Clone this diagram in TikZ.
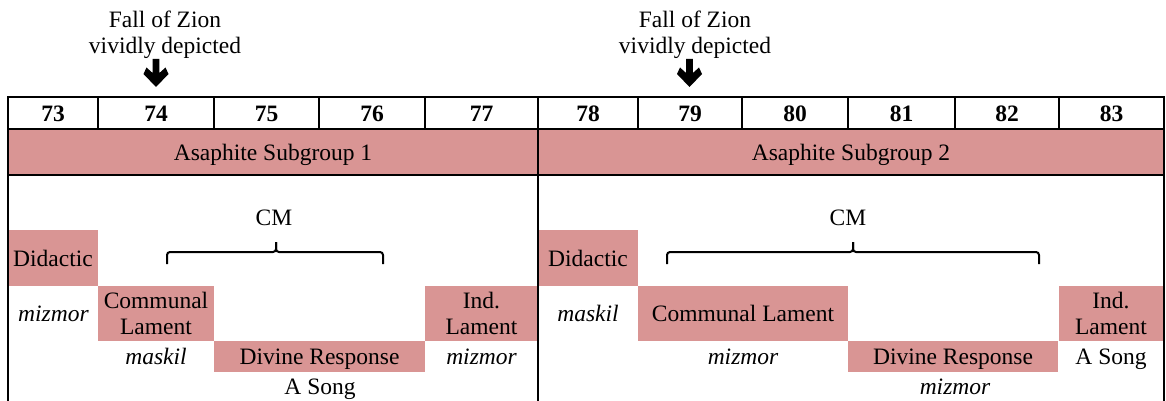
\documentclass[tikz,border=0pt]{standalone}
\usepackage{fontspec}
\IfFontExistsTF{LiberationSerif-Regular.ttf}
  {\setmainfont{LiberationSerif-Regular.ttf}[BoldFont=LiberationSerif-Bold.ttf,
     ItalicFont=LiberationSerif-Italic.ttf, BoldItalicFont=LiberationSerif-BoldItalic.ttf]}
  {\setmainfont{Liberation Serif}}
\definecolor{rosefill}{HTML}{D99594}
\begin{document}
\begin{tikzpicture}[x=1pt,y=-1pt,
  every node/.style={inner sep=0pt, outer sep=0pt},
  txt/.style={font=\rmfamily\fontsize{23.5}{26}\selectfont},
  one/.style={txt, text height=16.5pt, text depth=0pt},
  rule/.style={line width=2.2pt},
  numcell/.style={draw, rule, minimum height=32pt, text height=16.5pt, text depth=0pt,
    font=\rmfamily\fontsize{23.5}{26}\selectfont\bfseries},
  band/.style={draw, rule, fill=rosefill, minimum height=46pt, one},
  genre/.style={fill=rosefill, txt, align=center},
  genreone/.style={fill=rosefill, one},
  tag/.style={one, font=\rmfamily\fontsize{23.5}{26}\selectfont\itshape},
  note/.style={one},
  bracket/.style={line width=2pt, rounded corners=3pt},
]
\useasboundingbox (0,0) rectangle (1166,401);

% ---- headings with arrows ----
\node[txt, align=center] (fz1) at (165,34.5) {Fall of Zion\\vividly depicted};
\node[txt, align=center] (fz2) at (695,34.5) {Fall of Zion\\vividly depicted};
\coordinate (ar1) at (156,59);
\coordinate (ar2) at (689.5,59);
\foreach \c in {ar1,ar2}
  \fill[shift={(\c)}] (-3.4,0) -- (3.4,0) -- (3.4,14) -- (9.5,8.5) -- (12.5,15)
    -- (0,28) -- (-12.5,15) -- (-9.5,8.5) -- (-3.4,14) -- cycle;

% ---- genre blocks (left group) ----
\node[genreone, minimum width=90pt, minimum height=56pt] (did1) at (53,258) {Didactic};
\node[genre, minimum width=116pt, minimum height=55pt] (cl1) at (156,313.5) {Communal\\Lament};
\node[genreone, minimum width=211pt, minimum height=31pt] (dr1) at (319.5,356.5) {Divine Response};
\node[genre, minimum width=113pt, minimum height=55pt] (il1) at (481.5,313.5) {Ind.\\Lament};

% ---- genre blocks (right group) ----
\node[genreone, minimum width=100pt, minimum height=56pt] (did2) at (588,258) {Didactic};
\node[genreone, minimum width=210pt, minimum height=55pt] (cl2) at (743,313.5) {Communal Lament};
\node[genreone, minimum width=210pt, minimum height=31pt] (dr2) at (953,356.5) {Divine Response};
\node[genre, minimum width=105pt, minimum height=55pt] (il2) at (1111,313.5) {Ind.\\Lament};

% ---- psalm numbers ----
\foreach \n/\a/\b in {73/8/98, 74/98/214, 75/214/319, 76/319/425, 77/425/538,
                      78/538/638, 79/638/742, 80/742/848, 81/848/955, 82/955/1059, 83/1059/1164}
  \node[numcell, minimum width={\b-\a}] (p\n) at ({(\a+\b)/2},113) {\n};

% ---- subgroup bands ----
\node[band, minimum width=530pt] (sg1) at (273,152) {Asaphite Subgroup 1};
\node[band, minimum width=626pt] (sg2) at (851,152) {Asaphite Subgroup 2};

% ---- panel sides ----
\coordinate (bl) at (8,402);
\coordinate (bm) at (538,402);
\coordinate (br) at (1164,402);
\draw[rule] (sg1.south west) -- (bl);
\draw[rule] (sg1.south east) -- (bm);
\draw[rule] (sg2.south east) -- (br);

% ---- superscriptions and notes ----
\node[tag] (m1) at (53.5,313.5) {mizmor};
\node[tag] (k1) at (156,356) {maskil};
\node[tag] (m2) at (481.5,356) {mizmor};
\node[note] (s1) at (320,385.75) {A Song};
\node[tag] (k2) at (588,313.5) {maskil};
\node[tag] (m3) at (743,356) {mizmor};
\node[tag] (m4) at (955,385.75) {mizmor};
\node[note] (s2) at (1111,356) {A Song};

% ---- CM brackets ----
\node[note] (cm1) at (274,217.5) {CM};
\node[note] (cm2) at (848,217.5) {CM};
\coordinate (b1l) at (167,264);
\coordinate (b1r) at (383,264);
\coordinate (b1t) at (276,242);
\coordinate (b2l) at (667,264);
\coordinate (b2r) at (1039,264);
\coordinate (b2t) at (853,242);
\draw[bracket] (b1l) |- (b1t |- 0,252) -- (b1t);
\draw[bracket] (b1r) |- (b1t |- 0,252) -- (b1t);
\draw[bracket] (b2l) |- (b2t |- 0,252) -- (b2t);
\draw[bracket] (b2r) |- (b2t |- 0,252) -- (b2t);
\end{tikzpicture}
\end{document}
